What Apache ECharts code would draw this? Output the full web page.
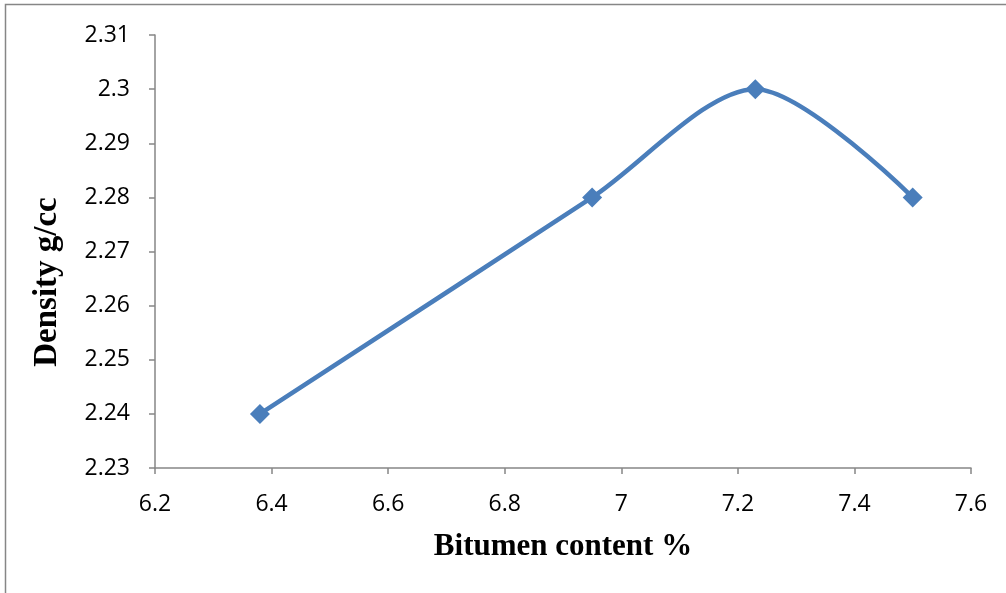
<!DOCTYPE html>
<html>
<head>
<meta charset="utf-8">
<script src="https://cdn.jsdelivr.net/npm/echarts@6/dist/echarts.min.js"></script>
<style>
  html, body { margin: 0; padding: 0; background: #fff; }
  #chart { width: 1006px; height: 593px; }
</style>
</head>
<body>
<div id="chart"></div>
<script>
// Bitumen content (%) against bulk density (g/cc)
const bitumenContent = [6.38, 6.95, 7.23, 7.5];
const density = [2.24, 2.28, 2.30, 2.28];
const xAxisTitle = 'Bitumen content %';
const yAxisTitle = 'Density g/cc';

const points = bitumenContent.map((x, i) => [x, density[i]]);
const axisGray = '#868686';
const labelFont = { color: '#000', fontSize: 23, fontFamily: 'Open Sans, Liberation Sans, sans-serif' };
const titleFamily = 'Liberation Serif, Times New Roman, serif';

const chart = echarts.init(document.getElementById('chart'), null, { renderer: 'canvas' });
chart.setOption({
  animation: false,
  backgroundColor: '#fff',
  graphic: [
    // outer frame: top and left edges of the chart area
    {
      type: 'polyline',
      shape: { points: [[5.5, 600], [5.5, 4.5], [1010, 4.5]] },
      style: { fill: 'none', stroke: axisGray, lineWidth: 1.5 },
      silent: true
    },
    // vertical axis title, set a little below the plot's middle
    {
      type: 'text',
      x: 47, y: 282,
      rotation: Math.PI / 2,
      style: {
        text: yAxisTitle,
        font: 'bold 33px ' + titleFamily,
        fill: '#000',
        align: 'center',
        verticalAlign: 'middle'
      },
      silent: true
    }
  ],
  grid: { left: 155, top: 35, right: 35, bottom: 125 },
  xAxis: {
    type: 'value',
    min: 6.2, max: 7.6, interval: 0.2,
    name: xAxisTitle,
    nameLocation: 'middle',
    nameGap: 63,
    nameTextStyle: { fontSize: 31, fontFamily: titleFamily, fontWeight: 'bold', color: '#000' },
    axisLine: { onZero: false, lineStyle: { color: axisGray, width: 1.5 } },
    axisTick: { show: true, length: 6, lineStyle: { color: axisGray, width: 1.5 } },
    axisLabel: Object.assign({ margin: 25, formatter: v => String(+v.toFixed(1)) }, labelFont),
    splitLine: { show: false }
  },
  yAxis: {
    type: 'value',
    min: 2.23, max: 2.31, interval: 0.01,
    axisLine: { show: true, onZero: false, lineStyle: { color: axisGray, width: 1.5 } },
    axisTick: { show: true, length: 6, lineStyle: { color: axisGray, width: 1.5 } },
    axisLabel: Object.assign({ margin: 25, formatter: v => String(+v.toFixed(2)) }, labelFont),
    splitLine: { show: false }
  },
  series: [{
    type: 'line',
    data: points,
    smooth: 0.3,
    symbol: 'diamond',
    symbolSize: 20,
    lineStyle: { color: '#4a7ebb', width: 4.5 },
    itemStyle: { color: '#4a7ebb' }
  }]
});
</script>
</body>
</html>
